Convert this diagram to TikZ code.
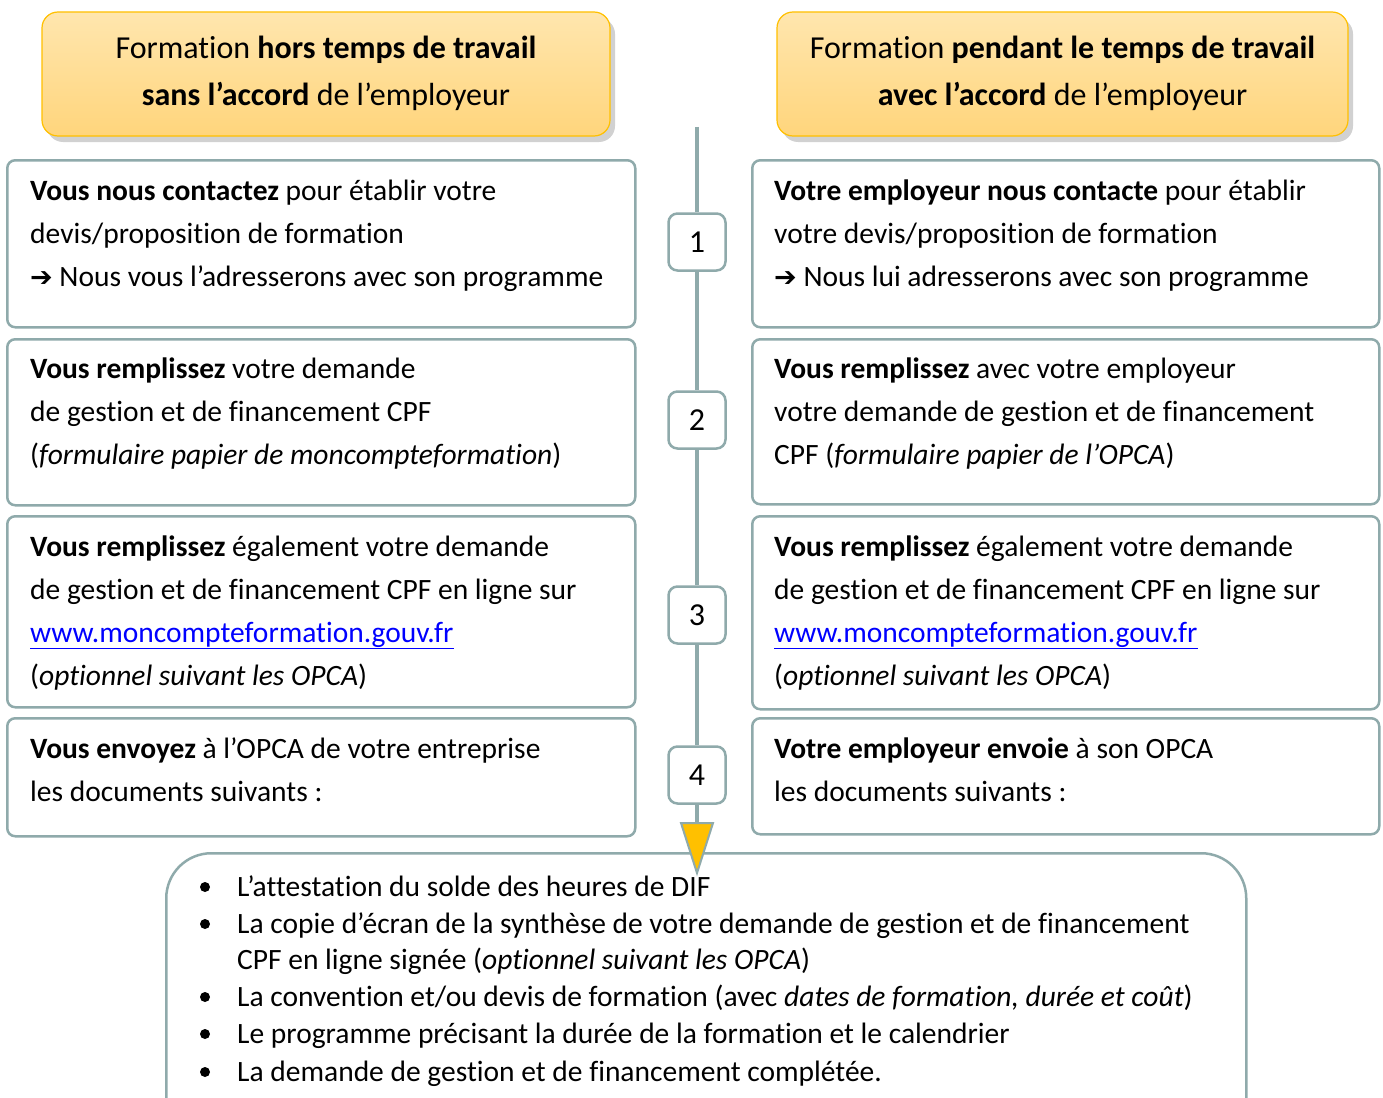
\documentclass[tikz,border=0pt]{standalone}
\usepackage{fontspec}
\setmainfont[Ligatures=NoCommon]{Carlito}
\newfontfamily\symfont{DejaVu Sans}
\usetikzlibrary{shadows}
\definecolor{bord}{HTML}{8FAAAB}
\definecolor{hdrtop}{HTML}{FFE6AE}
\definecolor{hdrbot}{HTML}{FFD57C}
\definecolor{hdrline}{HTML}{FFC000}
\definecolor{arrfill}{HTML}{FFC000}
\definecolor{linkc}{HTML}{0000FF}
\newcommand{\arr}{{\symfont\fontsize{27}{28}\selectfont ➔}}
\begin{document}
\begin{tikzpicture}[x=1pt,y=-1pt,
 box/.style={draw=bord, line width=2.5pt, rounded corners=8pt, fill=white, inner sep=0pt},
 hdr/.style={draw=hdrline, line width=1.2pt, rounded corners=16pt, top color=hdrtop, bottom color=hdrbot, inner sep=0pt,
   drop shadow={shadow xshift=5pt, shadow yshift=-6pt, fill=black!40, opacity=0.45}},
 num/.style={draw=bord, line width=2.5pt, rounded corners=9pt, fill=white, minimum width=57pt, minimum height=57pt, inner sep=0pt, font=\fontsize{32}{34}\selectfont},
 conn/.style={draw=bord, line width=4pt},
 ln/.style={anchor=base west, inner sep=0pt, font=\fontsize{29.5}{32}\selectfont},
 hl/.style={anchor=base, inner sep=0pt, font=\fontsize{32}{36}\selectfont},
 bul/.style={circle, fill=black, minimum size=10pt, inner sep=0pt},
]
\useasboundingbox (0,0) rectangle (1383,1097);
\clip (0,0) rectangle (1383,1097);
\fill[white] (0,0) rectangle (1383,1097);

% headers
\node[hdr, minimum width=568pt, minimum height=124pt] (HL) at (326,74) {};
\node[hdr, minimum width=571pt, minimum height=124pt] (HR) at (1062.5,74) {};
\node[hl] (hl1) at (326,59) {Formation \textbf{hors temps de travail}};
\node[hl] (hl2) at (326,106) {\textbf{sans l’accord} de l’employeur};
\node[hl] (hr1) at (1062.5,59) {Formation \textbf{pendant le temps de travail}};
\node[hl] (hr2) at (1062.5,106) {\textbf{avec l’accord} de l’employeur};

% timeline
\coordinate (top) at (697,127);
\node[num] (N1) at (697,242) {1};
\node[num] (N2) at (697,420) {2};
\node[num] (N3) at (697,615) {3};
\node[num] (N4) at (697,775) {4};
\draw[conn] (top) -- (N1) (N1) -- (N2) (N2) -- (N3) (N3) -- (N4);

% left boxes
\node[box, anchor=north west, minimum width=628pt, minimum height=167pt] (L1) at (6,159) {};
\node[box, anchor=north west, minimum width=628pt, minimum height=166pt] (L2) at (6,338) {};
\node[box, anchor=north west, minimum width=628pt, minimum height=191pt] (L3) at (6,515) {};
\node[box, anchor=north west, minimum width=628pt, minimum height=118pt] (L4) at (6,717) {};
% right boxes
\node[box, anchor=north west, minimum width=627pt, minimum height=167pt] (R1) at (751,159) {};
\node[box, anchor=north west, minimum width=627pt, minimum height=165pt] (R2) at (751,338) {};
\node[box, anchor=north west, minimum width=627pt, minimum height=193pt] (R3) at (751,515) {};
\node[box, anchor=north west, minimum width=627pt, minimum height=116pt] (R4) at (751,717) {};

% bottom box
\node[box, rounded corners=45pt, anchor=north west, minimum width=1080pt, minimum height=300pt] (B) at (165,852) {};

% arrow
\coordinate (at) at (697,823);
\draw[conn] (N4) -- (at);
\draw[draw=bord, line width=2pt, fill=arrfill, line join=miter] ([xshift=-16pt]at) -- ([xshift=16pt]at) -- ([yshift=-50pt]at) -- cycle;

% left texts
\node[ln] (l11) at (30,200) {\textbf{Vous nous contactez} pour établir votre};
\node[ln] (l12) at (30,243) {devis/proposition de formation};
\node[ln] (l13) at (30,286) {\arr\ Nous vous l’adresserons avec son programme};
\node[ln] (l21) at (30,378) {\textbf{Vous remplissez} votre demande};
\node[ln] (l22) at (30,421) {de gestion et de financement CPF};
\node[ln] (l23) at (30,464) {(\textit{formulaire papier de moncompteformation})};
\node[ln] (l31) at (30,556) {\textbf{Vous remplissez} également votre demande};
\node[ln] (l32) at (30,599) {de gestion et de financement CPF en ligne sur};
\node[ln] (l33) at (30,642) {\textcolor{linkc}{\underline{www.moncompteformation.gouv.fr}}};
\node[ln] (l34) at (30,685) {(\textit{optionnel suivant les OPCA})};
\node[ln] (l41) at (30,758) {\textbf{Vous envoyez} à l’OPCA de votre entreprise};
\node[ln] (l42) at (30,801) {les documents suivants :};

% right texts
\node[ln] (r11) at (774,200) {\textbf{Votre employeur nous contacte} pour établir};
\node[ln] (r12) at (774,243) {votre devis/proposition de formation};
\node[ln] (r13) at (774,286) {\arr\ Nous lui adresserons avec son programme};
\node[ln] (r21) at (774,378) {\textbf{Vous remplissez} avec votre employeur};
\node[ln] (r22) at (774,421) {votre demande de gestion et de financement};
\node[ln] (r23) at (774,464) {CPF (\textit{formulaire papier de l’OPCA})};
\node[ln] (r31) at (774,556) {\textbf{Vous remplissez} également votre demande};
\node[ln] (r32) at (774,599) {de gestion et de financement CPF en ligne sur};
\node[ln] (r33) at (774,642) {\textcolor{linkc}{\underline{www.moncompteformation.gouv.fr}}};
\node[ln] (r34) at (774,685) {(\textit{optionnel suivant les OPCA})};
\node[ln] (r41) at (774,758) {\textbf{Votre employeur envoie} à son OPCA};
\node[ln] (r42) at (774,801) {les documents suivants :};

% bottom list
\node[bul] (d1) at (205,887) {};
\node[bul] (d2) at (205,924) {};
\node[bul] (d3) at (205,997) {};
\node[bul] (d4) at (205,1034) {};
\node[bul] (d5) at (205,1072) {};
\node[ln] (b1) at (237,896) {L’attestation du solde des heures de DIF};
\node[ln] (b2) at (237,933) {La copie d’écran de la synthèse de votre demande de gestion et de financement};
\node[ln] (b2b) at (237,969) {CPF en ligne signée (\textit{optionnel suivant les OPCA})};
\node[ln] (b3) at (237,1006) {La convention et/ou devis de formation (avec \textit{dates de formation, durée et coût})};
\node[ln] (b4) at (237,1043) {Le programme précisant la durée de la formation et le calendrier};
\node[ln] (b5) at (237,1081) {La demande de gestion et de financement complétée.};
\end{tikzpicture}
\end{document}
